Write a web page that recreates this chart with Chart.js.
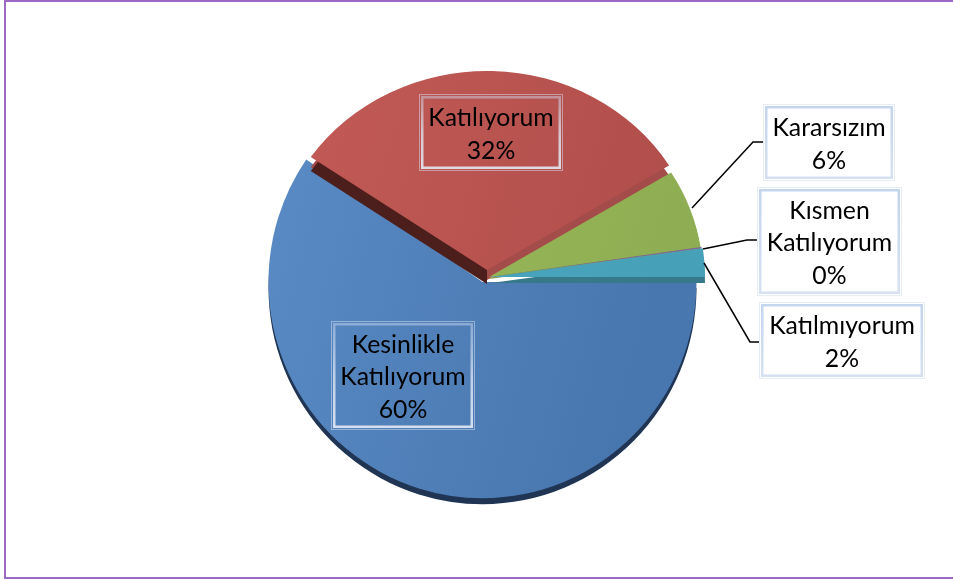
<!DOCTYPE html>
<html lang="tr">
<head>
<meta charset="utf-8">
<title>Pie</title>
<script src="https://cdn.jsdelivr.net/npm/chart.js@4"></script>
<style>
html,body{margin:0;padding:0;background:#fff;width:953px;height:580px;overflow:hidden}
#wrap{position:relative;width:953px;height:580px;overflow:hidden}
#frame{position:absolute;left:4px;top:0;width:980px;height:575px;border:2px solid #9c6ac4;box-sizing:content-box}
canvas{position:absolute;left:0;top:0}
</style>
</head>
<body>
<div id="wrap"><div id="frame"></div><canvas id="c" width="953" height="580"></canvas></div>
<script>
const categories = ['Kesinlikle Katılıyorum','Katılıyorum','Kararsızım','Kısmen Katılıyorum','Katılmıyorum'];
const values = [59.6,31.6,6.4,0.1,2.3];

const faceStart = ['#5c8dc6','#c45c57','#9dbd5c','#8064a2','#4babc4'];
const faceEnd   = ['#4876af','#b04e4b','#8fae53','#8064a2','#46a0b8'];
const wallColor = ['#1f3553','#4d1f1c','#7e9a48','#5c4876','#37788a'];
const sliceShiftX = [-4.5,0,2,3,4];
const sliceShiftY = [-1,-13,-6,-6,-6];
const sliceSquash = [1.01,0.93,0.93,0.93,0.93];
const wallDepth   = [6,14,2,2,6];

const boxX = [331,419,763,757,759];
const boxY = [321,94,104,187,302];
const boxW = [144,144,132,145,166];
const boxH = [109,77,77,109,77];
const boxOnPie = [true,true,false,false,false];
const leaderX = [null,null,[692,753,765],[703,747,758],[704,750,761]];
const leaderY = [null,null,[208,142,142],[249,240,240],[263,342,342]];

const fontFace = '24.8px Lato, "Noto Sans", sans-serif';
const lineGap = 32.8;
const textDrop = 2;

const baseDraw = Chart.ArcElement.prototype.draw;
function drawWith(arc, ctx, color){
  const o = arc.options;
  const t = Object.create(o);
  t.backgroundColor = color;
  arc.options = t;
  baseDraw.call(arc, ctx);
  arc.options = o;
}

const tiltPlugin = {
  id:'tilt',
  afterDatasetsUpdate(chart){
    chart.getDatasetMeta(0).data.forEach((arc,i)=>{
      arc.draw = function(ctx){
        const cx = this.x, cy = this.y;
        const place = (ex,ey)=>{
          ctx.translate(cx+sliceShiftX[i]+ex, cy+sliceShiftY[i]+ey);
          ctx.scale(1, sliceSquash[i]);
          ctx.translate(-cx,-cy);
        };
        if(i===1){
          ctx.save(); place(0,10); drawWith(this,ctx,'#a34c4a'); ctx.restore();
          ctx.save();
          ctx.beginPath(); ctx.rect(0,0,cx+sliceShiftX[i],chart.height); ctx.clip();
          place(0,wallDepth[i]); drawWith(this,ctx,wallColor[i]);
          ctx.restore();
        } else {
          ctx.save(); place(0,wallDepth[i]); drawWith(this,ctx,wallColor[i]); ctx.restore();
        }
        ctx.save(); place(0,0); baseDraw.call(this,ctx); ctx.restore();
      };
    });
  }
};

const labelPlugin = {
  id:'boxes',
  afterDraw(chart){
    const ctx = chart.ctx;
    ctx.save();
    categories.forEach((name,i)=>{
      const x=boxX[i],y=boxY[i],w=boxW[i],h=boxH[i];
      if(leaderX[i]){
        ctx.beginPath();
        leaderX[i].forEach((lx,k)=>{ k?ctx.lineTo(lx,leaderY[i][k]):ctx.moveTo(lx,leaderY[i][k]); });
        ctx.strokeStyle='#000'; ctx.lineWidth=1.5; ctx.stroke();
      }
      if(!boxOnPie[i]){ ctx.fillStyle='#fff'; ctx.fillRect(x,y,w,h); }
      const g = ctx.createLinearGradient(0,y,0,y+h);
      if(boxOnPie[i]){
        g.addColorStop(0,'rgba(205,218,242,0.45)');
        g.addColorStop(0.5,'rgba(225,232,246,0.75)');
        g.addColorStop(1,'rgba(228,234,246,0.9)');
      } else {
        g.addColorStop(0,'#c3d4ee');
        g.addColorStop(1,'#d6e1f3');
      }
      ctx.strokeStyle = boxOnPie[i] ? 'rgba(215,225,245,0.5)' : 'rgba(200,215,240,0.45)';
      ctx.lineWidth=1;
      ctx.strokeRect(x+0.5,y+0.5,w-1,h-1);
      ctx.strokeStyle=g; ctx.lineWidth=2.5;
      ctx.strokeRect(x+3.25,y+3.25,w-6.5,h-6.5);
      const lines = name.split(' ').concat(Math.round(values[i])+'%');
      ctx.fillStyle='#000'; ctx.font=fontFace; ctx.textAlign='center'; ctx.textBaseline='middle';
      const top = y+h/2+textDrop-(lines.length-1)*lineGap/2;
      lines.forEach((t,k)=>ctx.fillText(t,x+w/2,top+k*lineGap));
    });
    ctx.restore();
  }
};

new Chart(document.getElementById('c'),{
  type:'pie',
  data:{labels:categories,datasets:[{
    data:values,
    borderWidth:0,
    radius:214,
    clip:false,
    backgroundColor(c){
      const i=c.dataIndex;
      if(i===undefined) return '#000';
      const g=c.chart.ctx.createLinearGradient(268,0,705,120);
      g.addColorStop(0,faceStart[i]); g.addColorStop(1,faceEnd[i]);
      return g;
    }
  }]},
  options:{
    responsive:false,
    animation:false,
    rotation:90,
    layout:{padding:{left:21,bottom:14,top:0,right:0}},
    plugins:{legend:{display:false},tooltip:{enabled:false}}
  },
  plugins:[tiltPlugin,labelPlugin]
});
</script>
</body>
</html>
